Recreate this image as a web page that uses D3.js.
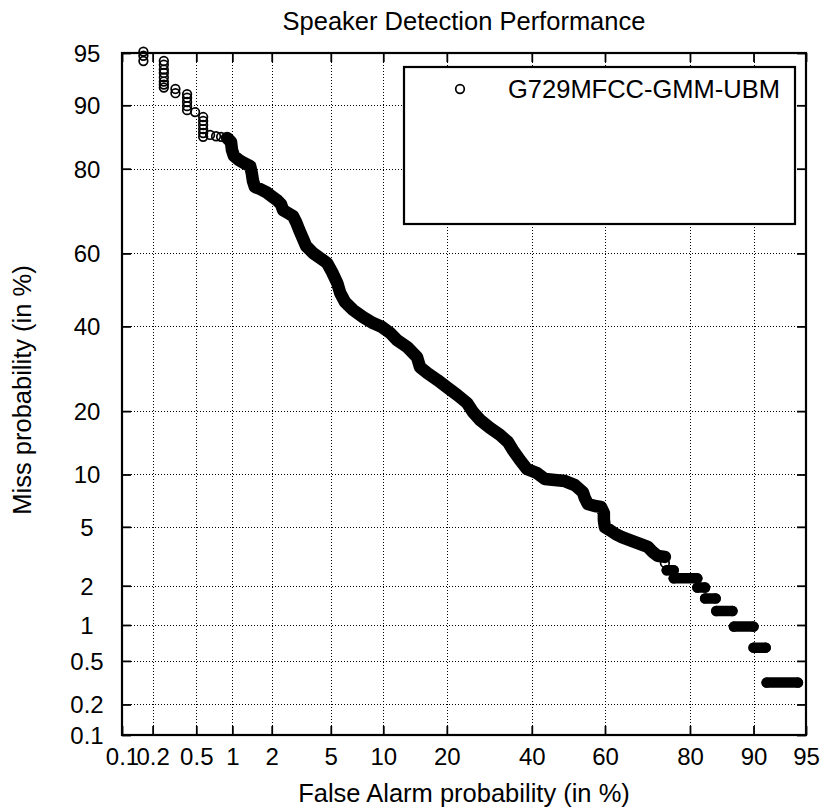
<!DOCTYPE html>
<html>
<head>
<meta charset="utf-8">
<script src="https://cdn.jsdelivr.net/npm/d3@7/dist/d3.min.js"></script>
<style>
  html, body { margin: 0; padding: 0; background: #fff; }
  svg { display: block; }
  text { font-family: "Liberation Sans", Arial, Helvetica, sans-serif; fill: #000; }
</style>
</head>
<body>
<div id="chart"></div>
<script>
// ---------- data (percent) ----------
const tickValues = [0.1, 0.2, 0.5, 1, 2, 5, 10, 20, 40, 60, 80, 90, 95];
const tickLabels = ["0.1", "0.2", "0.5", "1", "2", "5", "10", "20", "40", "60", "80", "90", "95"];

const seriesName = "G729MFCC-GMM-UBM";

// individually visible markers
const pointFA   = [0.163, 0.163, 0.163,
                   0.255, 0.255, 0.255, 0.255, 0.255, 0.255, 0.255, 0.255,
                   0.326, 0.326,
                   0.415, 0.415, 0.415, 0.415, 0.415,
                   0.488,
                   0.573, 0.573, 0.573, 0.573, 0.573, 0.573,
                   0.656, 0.736, 0.81,
                   74.79];
const pointMiss = [95.1, 94.8, 94.4,
                   94.4, 94.1, 93.7, 93.4, 93.0, 92.6, 92.3, 92.0,
                   91.85, 91.4,
                   91.3, 90.9, 90.4, 89.9, 89.4,
                   89.15,
                   88.5, 87.96, 87.39, 86.8, 86.2, 85.6,
                   85.9, 85.7, 85.6,
                   2.9];

// densely overlapping markers forming the continuous band
const bandFA = [0.907, 0.976, 0.993, 1.03, 1.13, 1.24, 1.38, 1.42, 1.45, 1.5,
                1.64, 1.82, 1.98, 2.18, 2.33, 2.41, 2.61, 2.83, 2.97, 3.12,
                3.27, 3.47, 3.86, 4.28, 4.74, 5.09, 5.48, 5.71, 6.1, 6.81,
                7.76, 8.81, 9.85, 10.87, 11.78, 13.24, 14.73, 15.21, 16.46, 18.24,
                20.02, 22.09, 24.15, 25.44, 27.05, 29.35, 31.79, 33.78, 35.03, 36.86,
                38.69, 41.36, 43.53, 46.27, 49.03, 51.79, 53.98, 54.53, 55.35, 57.26,
                58.89, 59.7, 59.7, 59.97, 61.28, 62.85, 64.42, 66.45, 68.95, 70.88,
                72.03, 73.18, 74.79];
const bandMiss = [85.42, 84.78, 83.43, 82.38, 81.64, 81.08, 80.51, 79.14, 77.52, 76.25,
                  75.82, 75.16, 74.29, 73.37, 72.44, 71.04, 70.33, 69.6, 68.12, 66.11,
                  64.32, 61.97, 60.1, 58.76, 57.4, 54.94, 51.89, 49.14, 46.65, 44.45,
                  42.52, 40.89, 39.82, 38.24, 36.39, 34.57, 32.05, 29.62, 28.19, 26.58,
                  24.98, 23.29, 21.62, 19.83, 18.32, 16.91, 15.71, 14.55, 13.32, 11.88,
                  10.68, 10.18, 9.46, 9.34, 9.22, 8.77, 8.02, 7.43, 6.86, 6.68,
                  6.6, 6.07, 5.52, 4.98, 4.77, 4.5, 4.31, 4.12, 3.89, 3.72,
                  3.44, 3.24, 3.19];

// horizontal runs of markers (lower right)
const runFAfrom = [75.2, 76.7, 81.4, 82.8, 84.7, 87.4, 90.0, 91.5];
const runFAto   = [76.7, 81.4, 82.8, 84.6, 87.2, 90.0, 91.4, 94.4];
const runMiss   = [2.58, 2.26, 1.94, 1.61, 1.29, 0.97, 0.65, 0.32];

// ---------- probit (inverse normal CDF, Acklam) ----------
function probit(p) {
  const a = [-3.969683028665376e+01, 2.209460984245205e+02, -2.759285104469687e+02, 1.383577518672690e+02, -3.066479806614716e+01, 2.506628277459239e+00];
  const b = [-5.447609879822406e+01, 1.615858368580409e+02, -1.556989798598866e+02, 6.680131188771972e+01, -1.328068155288572e+01];
  const c = [-7.784894002430293e-03, -3.223964580411365e-01, -2.400758277161838e+00, -2.549732539343734e+00, 4.374664141464968e+00, 2.938163982698783e+00];
  const d = [7.784695709041462e-03, 3.224671290700398e-01, 2.445134137142996e+00, 3.754408661907416e+00];
  const plow = 0.02425, phigh = 1 - plow;
  let q, r;
  if (p < plow) {
    q = Math.sqrt(-2 * Math.log(p));
    return (((((c[0]*q+c[1])*q+c[2])*q+c[3])*q+c[4])*q+c[5]) / ((((d[0]*q+d[1])*q+d[2])*q+d[3])*q+1);
  }
  if (p <= phigh) {
    q = p - 0.5; r = q*q;
    return (((((a[0]*r+a[1])*r+a[2])*r+a[3])*r+a[4])*r+a[5])*q / (((((b[0]*r+b[1])*r+b[2])*r+b[3])*r+b[4])*r+1);
  }
  q = Math.sqrt(-2 * Math.log(1 - p));
  return -(((((c[0]*q+c[1])*q+c[2])*q+c[3])*q+c[4])*q+c[5]) / ((((d[0]*q+d[1])*q+d[2])*q+d[3])*q+1);
}
const pz = v => probit(v / 100);

// ---------- layout ----------
const W = 822, H = 808;
const L = 122, R = 806, T = 53, B = 735;
const svg = d3.select("#chart").append("svg").attr("width", W).attr("height", H);

const x = d3.scaleLinear().domain([pz(0.1), pz(95)]).range([L, R]);
const y = d3.scaleLinear().domain([pz(0.1), pz(95)]).range([B, T]);
const X = v => x(pz(v));
const Y = v => y(pz(v));
const snap = v => Math.round(v) + 0.5;

// ---------- grid ----------
const inner = tickValues.slice(1, -1);
const grid = svg.append("g").attr("stroke", "#000").attr("stroke-width", 1)
  .attr("stroke-dasharray", "1 2").attr("fill", "none").attr("shape-rendering", "crispEdges");
grid.selectAll("line.v").data(inner).join("line").attr("class", "v")
  .attr("x1", d => snap(X(d))).attr("x2", d => snap(X(d))).attr("y1", T).attr("y2", B);
grid.selectAll("line.h").data(inner).join("line").attr("class", "h")
  .attr("y1", d => snap(Y(d))).attr("y2", d => snap(Y(d))).attr("x1", L).attr("x2", R);

// ---------- data marks ----------
const R_MARK = 4.3, SW = 1.7, BAND_W = 12.5, RUN_W = 10.5;
const dataG = svg.append("g");

const bandPts = bandFA.map((v, i) => [v, bandMiss[i]]);
const line = d3.line().x(d => X(d[0])).y(d => Y(d[1]));
dataG.append("path").datum(bandPts).attr("d", line)
  .attr("fill", "none").attr("stroke", "#000").attr("stroke-width", BAND_W)
  .attr("stroke-linejoin", "round").attr("stroke-linecap", "round");
dataG.append("g").selectAll("circle").data(bandPts).join("circle")
  .attr("cx", d => X(d[0])).attr("cy", d => Y(d[1])).attr("r", R_MARK)
  .attr("fill", "none").attr("stroke", "#000").attr("stroke-width", SW);

const runs = runMiss.map((m, i) => ({ a: runFAfrom[i], b: runFAto[i], m }));
dataG.append("g").selectAll("line").data(runs).join("line")
  .attr("x1", d => X(d.a)).attr("x2", d => X(d.b))
  .attr("y1", d => Y(d.m)).attr("y2", d => Y(d.m))
  .attr("stroke", "#000").attr("stroke-width", RUN_W).attr("stroke-linecap", "round");
const runEnds = runs.flatMap(d => [[d.a, d.m], [d.b, d.m]]);
dataG.append("g").selectAll("circle").data(runEnds).join("circle")
  .attr("cx", d => X(d[0])).attr("cy", d => Y(d[1])).attr("r", R_MARK)
  .attr("fill", "none").attr("stroke", "#000").attr("stroke-width", SW);

const pts = pointFA.map((v, i) => [v, pointMiss[i]]);
dataG.append("g").selectAll("circle").data(pts).join("circle")
  .attr("cx", d => X(d[0])).attr("cy", d => Y(d[1])).attr("r", R_MARK)
  .attr("fill", "none").attr("stroke", "#000").attr("stroke-width", SW);

// ---------- axes ----------
const tickPos = tickValues.map(pz);
const fmt = (d, i) => tickLabels[i];
const TL = 9;

const gB = svg.append("g").attr("transform", `translate(0,${B})`)
  .call(d3.axisBottom(x).tickValues(tickPos).tickFormat(fmt).tickSize(-TL).tickPadding(13));
gB.selectAll("text").attr("font-size", 24).attr("font-family", "'Liberation Sans', Arial, sans-serif");

const gT = svg.append("g").attr("transform", `translate(0,${T})`)
  .call(d3.axisTop(x).tickValues(tickPos).tickFormat("").tickSize(-TL));

const gL = svg.append("g").attr("transform", `translate(${L},0)`)
  .call(d3.axisLeft(y).tickValues(tickPos).tickFormat(fmt).tickSize(-TL).tickPadding(10));
gL.selectAll("text").attr("font-size", 24).attr("font-family", "'Liberation Sans', Arial, sans-serif")
  .attr("text-anchor", "middle").attr("x", -35).attr("dy", "0.35em");

const gR = svg.append("g").attr("transform", `translate(${R},0)`)
  .call(d3.axisRight(y).tickValues(tickPos).tickFormat("").tickSize(-TL));

[gB, gT, gL, gR].forEach(g => {
  g.select(".domain").remove();
  g.selectAll(".tick line").attr("stroke", "#000").attr("stroke-width", 1.8);
  g.selectAll("text").attr("fill", "#000");
});

// ---------- legend ----------
const lg = svg.append("g");
lg.append("rect").attr("x", 404).attr("y", 67).attr("width", 391).attr("height", 157)
  .attr("fill", "#fff").attr("stroke", "#000").attr("stroke-width", 2.2);
lg.append("circle").attr("cx", 460).attr("cy", 89).attr("r", R_MARK)
  .attr("fill", "none").attr("stroke", "#000").attr("stroke-width", SW);
lg.append("text").attr("x", 508).attr("y", 98).attr("font-size", 25.5).text(seriesName);

// box
svg.append("rect").attr("x", L).attr("y", T).attr("width", R - L).attr("height", B - T)
  .attr("fill", "none").attr("stroke", "#000").attr("stroke-width", 2.2);

// ---------- titles ----------
svg.append("text").attr("x", (L + R) / 2).attr("y", 30).attr("text-anchor", "middle")
  .attr("font-size", 25.5).text("Speaker Detection Performance");
svg.append("text").attr("x", (L + R) / 2).attr("y", 802).attr("text-anchor", "middle")
  .attr("font-size", 25.5).text("False Alarm probability (in %)");
svg.append("text").attr("transform", `translate(31,390) rotate(-90)`).attr("text-anchor", "middle")
  .attr("font-size", 25.5).text("Miss probability (in %)");
</script>
</body>
</html>
